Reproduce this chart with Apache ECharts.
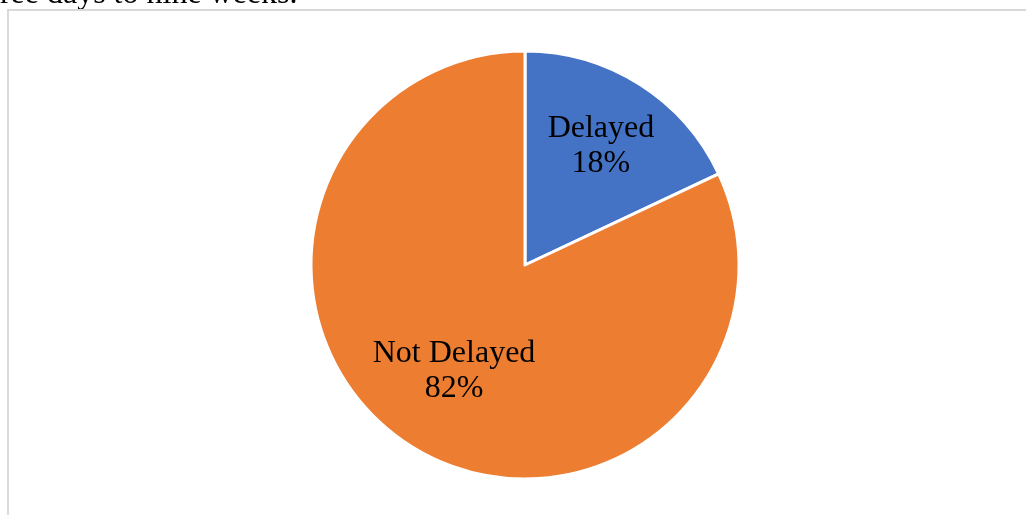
<!DOCTYPE html>
<html>
<head>
<meta charset="utf-8">
<script src="https://cdn.jsdelivr.net/npm/echarts@6/dist/echarts.min.js"></script>
<style>
html,body{margin:0;padding:0;background:#fff;}
#chart{width:1026px;height:515px;}
</style>
</head>
<body>
<div id="chart"></div>
<script>
const categories = ['Delayed', 'Not Delayed'];
const values = [18, 82];
const colors = ['#4472C4', '#ED7D31'];
const headerText = 'three days to nine weeks.';

const labelNudges = [[2, -2], [3, -10]];

const chart = echarts.init(document.getElementById('chart'), null, {renderer: 'canvas'});
const pieData = categories.map((c, i) => ({name: c, value: values[i], itemStyle: {color: colors[i]}}));

chart.setOption({
  backgroundColor: '#ffffff',
  animation: false,
  graphic: [
    {
      type: 'text', left: -25, top: -21, silent: true,
      style: {text: headerText, font: '32px "Liberation Serif"', fill: '#000'}
    },
    {
      type: 'rect', silent: true,
      shape: {x: 8, y: 10, width: 1100, height: 600},
      style: {fill: 'none', stroke: '#d9d9d9', lineWidth: 2}
    }
  ],
  series: [
    {
      type: 'pie',
      center: [525, 265],
      radius: [0, 214],
      startAngle: 90,
      clockwise: true,
      silent: true,
      label: {show: false},
      labelLine: {show: false},
      itemStyle: {borderColor: '#ffffff', borderWidth: 3},
      data: pieData
    },
    {
      type: 'pie',
      center: [525, 265],
      radius: [56, 214],
      startAngle: 90,
      clockwise: true,
      silent: true,
      itemStyle: {color: 'transparent', borderWidth: 0},
      label: {
        show: true,
        position: 'inside',
        formatter: p => p.name + '\n' + p.value + '%',
        fontFamily: '"Liberation Serif"',
        fontSize: 32,
        lineHeight: 35,
        color: '#000'
      },
      labelLine: {show: false},
      data: categories.map((c, i) => ({name: c, value: values[i], label: {offset: labelNudges[i]}}))
    }
  ]
});
</script>
</body>
</html>
